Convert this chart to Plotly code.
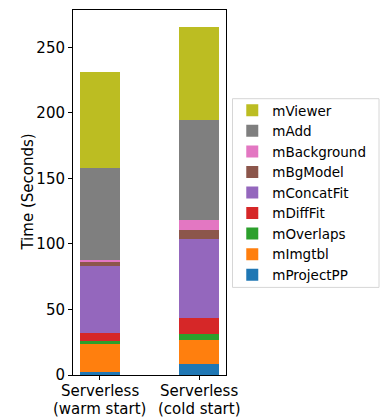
import plotly.graph_objects as go

# Execution time per Montage stage (seconds)
categories = ["Serverless", "Serverless"]
conditions = ["(warm start)", "(cold start)"]
stages = ["mProjectPP", "mImgtbl", "mOverlaps", "mDiffFit", "mConcatFit",
          "mBgModel", "mBackground", "mAdd", "mViewer"]
mProjectPP = [2.3, 8.6]
mImgtbl = [22.1, 18.3]
mOverlaps = [1.3, 4.6]
mDiffFit = [6.3, 12.2]
mConcatFit = [51.1, 60.0]
mBgModel = [3.8, 6.8]
mBackground = [1.0, 7.6]
mAdd = [69.9, 76.3]
mViewer = [73.2, 70.8]

series = [mProjectPP, mImgtbl, mOverlaps, mDiffFit, mConcatFit,
          mBgModel, mBackground, mAdd, mViewer]
colors = ["#1f77b4", "#ff7f0e", "#2ca02c", "#d62728", "#9467bd",
          "#8c564b", "#e377c2", "#7f7f7f", "#bcbd22"]

xpos = list(range(len(categories)))

fig = go.Figure()
for name, vals, col in zip(stages, series, colors):
    fig.add_trace(go.Bar(x=xpos, y=vals, name=name, width=0.4,
                         marker=dict(color=col, line=dict(width=0))))

totals = [sum(s[i] for s in series) for i in range(len(categories))]
ymax = max(totals) * 1.05

# two-line category labels with tight line spacing
for i, (top, bottom) in enumerate(zip(categories, conditions)):
    for text, shift in ((top, -5), (bottom, -23)):
        fig.add_annotation(x=i, xref="x", y=0, yref="paper", text=text,
                           showarrow=False, xanchor="center", yanchor="top",
                           yshift=shift, font=dict(size=15))

# y-axis title
fig.add_annotation(x=-0.30, xref="paper", y=0.5, yref="paper",
                   text="Time (Seconds)", textangle=-90, showarrow=False,
                   xanchor="center", yanchor="middle", font=dict(size=15))

# legend frame
fig.add_shape(type="rect", xref="paper", yref="paper",
              x0=1.0425, x1=2.0, y0=0.24, y1=0.757,
              line=dict(color="#d6d6d6", width=1), fillcolor="rgba(0,0,0,0)")

font = "DejaVu Sans"
fig.update_layout(
    barmode="stack",
    width=381, height=419,
    margin=dict(l=73, r=155, t=10, b=44, autoexpand=False),
    plot_bgcolor="white", paper_bgcolor="white",
    font=dict(family=font, size=15, color="black"),
    legend=dict(traceorder="reversed", x=1.041, y=0.5, xanchor="left",
                yanchor="middle", borderwidth=0, bgcolor="rgba(0,0,0,0)",
                font=dict(size=13.5), itemsizing="constant"),
    xaxis=dict(range=[-0.27, 1.27], tickvals=xpos, showticklabels=False,
               showline=True, linecolor="black", linewidth=1, mirror=True,
               ticks="outside", ticklen=4, tickcolor="black", showgrid=False,
               zeroline=False, automargin=False),
    yaxis=dict(range=[0, ymax], tickvals=[0, 50, 100, 150, 200, 250],
               showline=True, linecolor="black", linewidth=1, mirror=True,
               ticks="outside", ticklen=4, tickcolor="black", showgrid=False,
               zeroline=False, automargin=False),
)

fig.write_html("out.html")
